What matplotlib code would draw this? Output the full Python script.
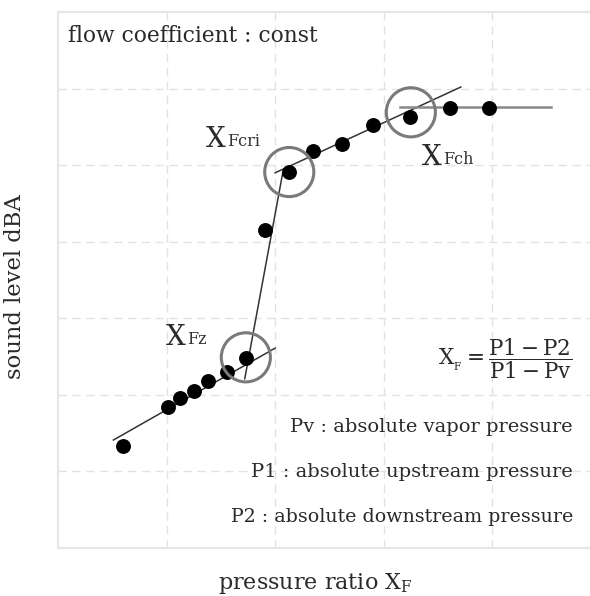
import matplotlib
matplotlib.use("Agg")
import matplotlib.pyplot as plt

plt.rcParams['font.family'] = ['DejaVu Serif']
plt.rcParams['mathtext.fontset'] = 'dejavuserif'

# measured points (pressure ratio, sound level)
pts_x = [0.60, 1.01, 1.12, 1.25, 1.38, 1.56, 1.73, 1.91, 2.13, 2.35, 2.62, 2.90, 3.24, 3.61, 3.97]
pts_y = [1.33, 1.84, 1.96, 2.05, 2.18, 2.30, 2.48, 4.15, 4.91, 5.18, 5.27, 5.52, 5.63, 5.74, 5.74]

# trend line segments
seg1_x = [0.51, 2.00]
seg1_y = [1.41, 2.61]
seg2_x = [1.72, 2.07]
seg2_y = [2.21, 4.90]
seg3_x = [2.00, 3.71]
seg3_y = [4.90, 6.02]
seg4_x = [3.15, 4.54]
seg4_y = [5.76, 5.76]

# marked points: X_Fz, X_Fcri, X_Fch
mark_x = [1.73, 2.13, 3.25]
mark_y = [2.49, 4.91, 5.69]

fig = plt.figure(figsize=(5.9, 5.96), dpi=100)
ax = fig.add_axes([58/590, 48/596, 532/590, 536/596])
ax.set_xlim(0, 4.9)
ax.set_ylim(0, 7)
ax.set_xticks([1, 2, 3, 4])
ax.set_yticks([1, 2, 3, 4, 5, 6])
ax.tick_params(length=0, labelbottom=False, labelleft=False)
ax.grid(True, color='#e2e2e2', lw=1.0, linestyle=(0, (6, 4)))
for s in ['left', 'bottom', 'top']:
    ax.spines[s].set_color('#e6e6e6')
    ax.spines[s].set_linewidth(1.5)
ax.spines['right'].set_visible(False)

ax.plot(seg1_x, seg1_y, color='#333333', lw=1.1, zorder=3)
ax.plot(seg2_x, seg2_y, color='#333333', lw=1.1, zorder=3)
ax.plot(seg3_x, seg3_y, color='#333333', lw=1.1, zorder=3)
ax.plot(seg4_x, seg4_y, color='#888888', lw=1.8, zorder=3)
ax.scatter(pts_x, pts_y, s=115, color='black', zorder=4, linewidths=0)
ax.scatter(mark_x, mark_y, s=1250, facecolors='none', edgecolors='#7a7a7a', linewidths=2.2, zorder=5)

TXT = '#2a2a2a'

def xlabel_sub(x, y, sub, big=20, small=11.5, ha='left'):
    t = ax.text(x, y, 'X', fontsize=big, color=TXT, ha=ha, va='baseline')
    ax.annotate(sub, xy=(1, 0), xycoords=t, xytext=(1, 2), textcoords='offset points',
                fontsize=small, color='#333333', ha='left', va='bottom')

xlabel_sub(1.36, 5.24, 'Fcri')
xlabel_sub(3.35, 5.0, 'Fch')
xlabel_sub(0.99, 2.65, 'Fz')

ax.text(0.019, 0.955, 'flow coefficient : const', transform=ax.transAxes,
        fontsize=15.7, color=TXT, ha='left', va='center')

ax.text(0.968, 0.354, r'$\mathrm{X}_{_\mathrm{F}} = \dfrac{\mathrm{P1-P2}}{\mathrm{P1-Pv}}$',
        transform=ax.transAxes, fontsize=15.5, color=TXT, ha='right', va='center')

ax.text(0.968, 0.225, 'Pv : absolute vapor pressure', transform=ax.transAxes,
        fontsize=14, color=TXT, ha='right', va='center')
ax.text(0.968, 0.142, 'P1 : absolute upstream pressure', transform=ax.transAxes,
        fontsize=14, color=TXT, ha='right', va='center')
ax.text(0.968, 0.058, 'P2 : absolute downstream pressure', transform=ax.transAxes,
        fontsize=13.7, color=TXT, ha='right', va='center')

fig.text(315/590, 7/596, r'pressure ratio $\mathrm{X_F}$', fontsize=16,
         color=TXT, ha='center', va='baseline')
fig.text(15/590, 1 - 287/596, 'sound level dBA', fontsize=16.3, rotation=90,
         color=TXT, ha='center', va='center')

fig.savefig('out.png', dpi=100)
